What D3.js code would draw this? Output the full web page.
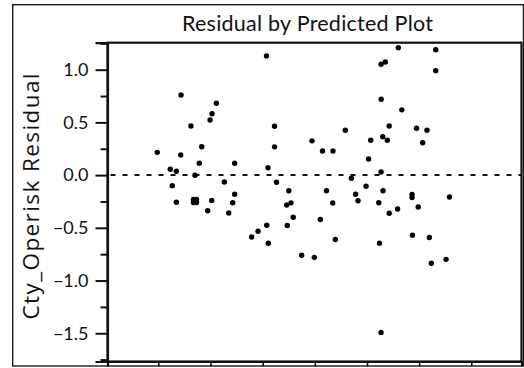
<!DOCTYPE html>
<html>
<head>
<meta charset="utf-8">
<script src="https://cdn.jsdelivr.net/npm/d3@7"></script>
<style>
  html, body { margin: 0; padding: 0; background: #fff; }
  svg { display: block; }
</style>
</head>
<body>
<svg id="chart" width="524" height="368"></svg>
<script>
// ---- Data ----
const title = "Residual by Predicted Plot";
const yLabel = "Cty_Operisk Residual";
const yTickValues = [1.0, 0.5, 0.0, -0.5, -1.0, -1.5];
const yMinorTickValues = [1.25, 0.75, 0.25, -0.25, -0.75, -1.25, -1.75];
const xTickValues = [1.0, 1.5, 2.0, 2.5, 3.0, 3.5, 4.0];
const xDomain = [0.513, 4.481];
const yDomain = [-1.768, 1.256];

// predicted values (x) and residuals (y)
const predicted = [
  0.99, 1.115, 1.173, 1.134, 1.173, 1.218, 1.215, 1.313, 1.352,
  1.337, 1.366, 1.337, 1.366,
  1.393, 1.416, 1.473, 1.496, 1.515, 1.556, 1.512, 1.633, 1.675, 1.713, 1.732, 1.732,
  1.895, 1.956, 2.039, 2.054, 2.037, 2.051, 2.114, 2.114, 2.133, 2.231, 2.272, 2.293,
  2.236, 2.251, 2.374, 2.495, 2.473, 2.553, 2.574, 2.674, 2.612, 2.672, 2.697, 2.792,
  2.850, 2.891, 2.914, 2.991, 3.015, 3.036, 3.113, 3.120, 3.135, 3.135, 3.136, 3.135,
  3.176, 3.151, 3.195, 3.154, 3.213, 3.213, 3.293, 3.300, 3.334, 3.432, 3.432, 3.436,
  3.475, 3.491, 3.534, 3.575, 3.598, 3.617, 3.659, 3.659, 3.758, 3.791
];
const residual = [
  0.216, 0.055, 0.036, -0.100, -0.258, 0.760, 0.191, 0.466, -0.002,
  -0.231, -0.231, -0.260, -0.260,
  0.112, 0.269, -0.338, 0.523, 0.582, 0.681, -0.241, -0.065, -0.359, -0.262, -0.182, 0.112,
  -0.587, -0.533, -0.476, -0.646, 1.131, 0.070, 0.463, 0.268, -0.068, -0.284, -0.263, -0.400,
  -0.478, -0.148, -0.760, -0.780, 0.325, -0.421, 0.229, 0.229, -0.148, -0.265, -0.611, 0.426,
  -0.030, -0.181, -0.243, -0.105, 0.153, 0.330, -0.262, -0.646, -1.492, 0.029, 0.719, 1.052,
  1.073, 0.364, 0.330, -0.148, 0.466, -0.362, -0.322, 1.209, 0.619, -0.184, -0.212, -0.571,
  0.444, -0.303, 0.307, 0.425, -0.592, -0.836, 1.189, 0.990, -0.799, -0.208
];

// ---- Layout ----
const svg = d3.select("#chart");
const plot = { left: 107.5, right: 521.5, top: 42.7, bottom: 361.5 };
const FONT = "Lato, 'Open Sans', sans-serif";

const x = d3.scaleLinear().domain(xDomain).range([plot.left, plot.right]);
const y = d3.scaleLinear().domain(yDomain).range([plot.bottom, plot.top]);

// outer frame
svg.append("rect")
  .attr("x", 12.7).attr("y", 4.7)
  .attr("width", 523.5 - 12.7).attr("height", 366 - 4.7)
  .attr("fill", "none").attr("stroke", "#1a1a1a").attr("stroke-width", 1.4);

// title
svg.append("text")
  .attr("x", 307.5).attr("y", 30.5)
  .attr("text-anchor", "middle")
  .attr("font-family", FONT)
  .attr("font-size", 21.5)
  .attr("textLength", 251).attr("lengthAdjust", "spacing")
  .attr("fill", "#111")
  .text(title);

// y axis label
svg.append("text")
  .attr("transform", `translate(39,196.5) rotate(-90)`)
  .attr("text-anchor", "middle")
  .attr("font-family", "'Open Sans', Lato, sans-serif")
  .attr("font-size", 22.5)
  .attr("textLength", 246).attr("lengthAdjust", "spacing")
  .attr("fill", "#111")
  .text(yLabel);

// plot box
svg.append("rect")
  .attr("x", plot.left).attr("y", plot.top)
  .attr("width", plot.right - plot.left).attr("height", plot.bottom - plot.top)
  .attr("fill", "none").attr("stroke", "#111").attr("stroke-width", 2.2);

// y axis: major ticks
const yAxis = d3.axisLeft(y)
  .tickValues(yTickValues)
  .tickSize(12)
  .tickPadding(7)
  .tickFormat(d => d3.format(".1f")(d).replace("-", "\u2212"));
const gy = svg.append("g").attr("transform", `translate(${plot.left},0)`).call(yAxis);
gy.select(".domain").attr("stroke", "#111").attr("stroke-width", 2.2);
gy.selectAll(".tick line").attr("stroke", "#111").attr("stroke-width", 2);
gy.selectAll(".tick text")
  .attr("font-family", FONT)
  .attr("font-size", 18).attr("fill", "#111");

// y axis: minor ticks
const yMinor = d3.axisLeft(y).tickValues(yMinorTickValues).tickSize(7).tickFormat("");
const gym = svg.append("g").attr("transform", `translate(${plot.left},0)`).call(yMinor);
gym.select(".domain").remove();
gym.selectAll(".tick line").attr("stroke", "#111").attr("stroke-width", 2);

// x axis (its labels sit mostly below the window edge, as in the reference)
const xAxis = d3.axisBottom(x).tickValues(xTickValues).tickSize(5).tickPadding(4)
  .tickFormat(d3.format(".1f"));
const gx = svg.append("g").attr("transform", `translate(0,${plot.bottom})`).call(xAxis);
gx.select(".domain").attr("stroke", "#111").attr("stroke-width", 2.2);
gx.selectAll(".tick line").attr("stroke", "#111").attr("stroke-width", 1.6);
gx.selectAll(".tick text")
  .attr("font-family", FONT)
  .attr("font-size", 18).attr("fill", "#111");

// zero reference line (dashed)
svg.append("line")
  .attr("x1", x(xDomain[0]) + 3).attr("x2", x(xDomain[1]))
  .attr("y1", y(0)).attr("y2", y(0))
  .attr("stroke", "#111").attr("stroke-width", 2)
  .attr("stroke-dasharray", "5,7");

// points
const pts = predicted.map((p, i) => ({ p, r: residual[i] }));
svg.append("g").selectAll("circle")
  .data(pts)
  .join("circle")
  .attr("cx", d => x(d.p))
  .attr("cy", d => y(d.r))
  .attr("r", 2.7)
  .attr("fill", "#000");
</script>
</body>
</html>
